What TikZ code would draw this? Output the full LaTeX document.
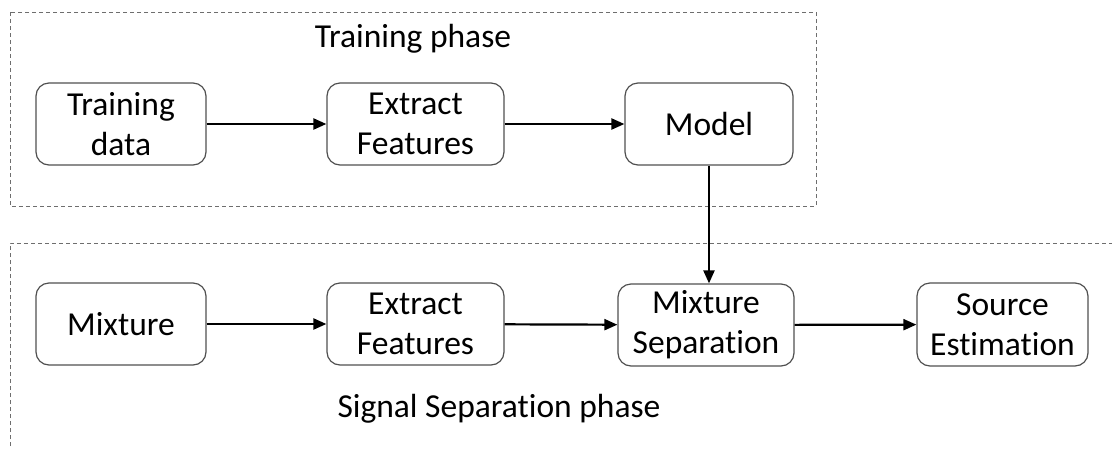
\documentclass[tikz,border=0pt]{standalone}
\usepackage{fontspec}
\setmainfont[Ligatures=NoCommon]{Carlito}
\usetikzlibrary{arrows.meta}
\definecolor{boxline}{RGB}{80,80,80}
\definecolor{dashline}{RGB}{110,110,110}
\tikzset{
  procbox/.style={draw=boxline, line width=1.2pt, rounded corners=13pt, align=center,
    inner sep=0pt, font=\fontsize{33.5}{40}\selectfont},
  flow/.style={line width=2.2pt, -{Triangle[length=13pt,width=11pt]}},
  phase/.style={draw=dashline, line width=1pt, dash pattern=on 4pt off 3pt},
  phaselabel/.style={font=\fontsize{33.5}{40}\selectfont}
}
\begin{document}
\begin{tikzpicture}[x=1pt,y=-1pt]
\clip (0,0) rectangle (1112,448);
\fill[white] (0,0) rectangle (1112,448);
% phase frames
\draw[phase] (10,12) rectangle (816,206);
\draw[phase] (10,460) -- (10,243) -- (1130,243);
\node[phaselabel] (tp) at (413,39) {Training phase};
\node[phaselabel] (sp) at (499,409) {Signal Separation phase};
% training row
\node[procbox, minimum width=170pt, minimum height=82pt] (td) at (121,124) {Training\\data};
\node[procbox, minimum width=177pt, minimum height=82pt] (ef1) at (415.5,124) {Extract\\Features};
\node[procbox, minimum width=168pt, minimum height=82pt] (model) at (709,124) {Model};
% separation row
\node[procbox, minimum width=170pt, minimum height=82pt] (mix) at (121,324) {Mixture};
\node[procbox, minimum width=177pt, minimum height=82pt] (ef2) at (415.5,324) {Extract\\Features};
\node[procbox, minimum width=176pt, minimum height=82pt] (ms) at (706,325) {Mixture\\Separation};
\node[procbox, minimum width=171pt, minimum height=83pt] (se) at (1002.5,324.5) {Source\\Estimation};
% connectors
\draw[flow] (td) -- (ef1);
\draw[flow] (ef1) -- (model);
\draw[flow] (mix) -- (ef2);
\draw[flow] (ef2) -- (ms);
\draw[flow] (ms) -- (se);
\draw[flow] (model.south) -- (model.south |- ms.north);
\end{tikzpicture}
\end{document}
